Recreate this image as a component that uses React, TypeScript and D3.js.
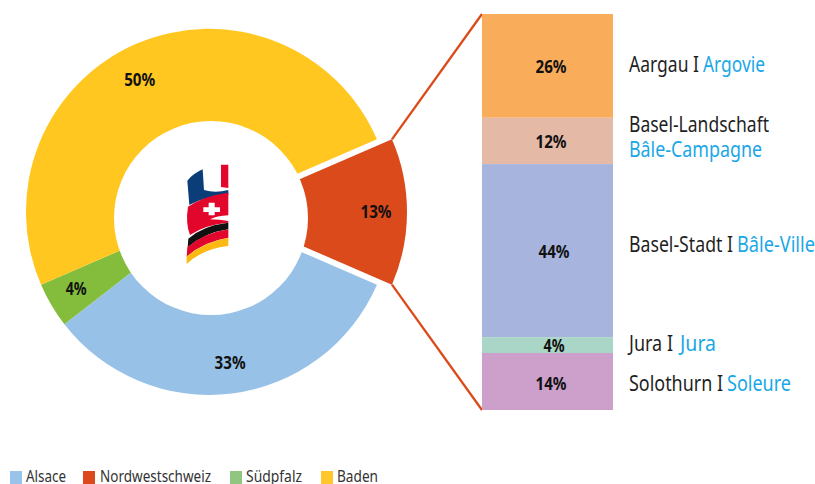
import React from 'react'
import * as d3 from 'd3'

const WIDTH = 815
const HEIGHT = 484
const FONT = '"Noto Sans", "Open Sans", sans-serif'

// donut, clockwise from the blue slice
const regions = ['Alsace', 'Südpfalz', 'Baden', 'Nordwestschweiz']
const regionShares = [33, 4, 50, 13]
const regionColors = ['#97C1E7', '#84BC3B', '#FFC71F', '#DB4A1B']

// legend has its own order and a paler green
const legendNames = ['Alsace', 'Nordwestschweiz', 'Südpfalz', 'Baden']
const legendColors = ['#99C4EA', '#DC491C', '#90C680', '#FFC72C']
const legendSwatchX = [10, 83, 230, 321]
const legendTextX = [26, 100, 246, 337]
const legendTextW = [40, 111, 56, 41]

// stacked bar, values are a bit finer than the printed percentages
const cantonShares = [26.2, 11.7, 43.7, 4.0, 14.4]
const cantonColors = ['#F9AC5A', '#E4B9A6', '#A7B5DE', '#A9D6C6', '#CDA0CC']

const CENTER = { x: 209, y: 212 }
const HOLE = { x: 211, y: 218, r: 97 }
const RADIUS = 183
const EXPLODE = 15
const BAR = { x: 482, w: 131, top: 14, bottom: 410 }
const START = (113.4 * Math.PI) / 180

const blueText = '#1AA7E6'
const darkText = '#1f1f1f'

// one row per text piece: text, colour, x, baseline, width
const cantonLabels: [string, string, number, number, number][] = [
  ['Aargau I', darkText, 629, 72, 70],
  ['Argovie', blueText, 703, 72, 62],
  ['Basel-Landschaft', darkText, 629, 132, 140],
  ['Bâle-Campagne', blueText, 629, 157, 133],
  ['Basel-Stadt I', darkText, 629, 252, 104],
  ['Bâle-Ville', blueText, 737, 252, 78],
  ['Jura I', darkText, 629, 351, 44],
  ['Jura', blueText, 680, 351, 36],
  ['Solothurn I', darkText, 629, 391, 94],
  ['Soleure', blueText, 727, 391, 64],
]
const barLabelX = [551, 551, 554, 554, 551]
const barLabelY = [73, 148, 258, 352, 390]

function Percent({ x, y, value }: { x: number; y: number; value: number }) {
  return (
    <text x={x} y={y} textAnchor="middle" fontFamily={FONT} fontSize={18} fontWeight={700}
      textLength={value < 10 ? 21 : 31} lengthAdjust="spacingAndGlyphs" fill="#111">
      {value}%
    </text>
  )
}

// the three-flag logo, drawn in the pixels of a 3x crop
function Logo() {
  return (
    <g transform="translate(160,140) scale(0.3333)">
      <path d="M82,122 Q100,100 128,88 L132,150 Q165,160 205,150 L205,165 Q130,170 88,195 Z" fill="#0B3D78" />
      <path d="M183,74 L205,74 L205,144 L183,141 Z" fill="#E2062C" />
      <path d="M84,200 Q130,168 205,158 L205,226 Q170,228 150,238 Q180,238 205,243 L205,248 Q135,254 90,285 Q76,250 84,200 Z" fill="#E2062C" />
      <path d="M130,202 H146 V188 H164 V202 H180 V216 H164 V226 H146 V216 H130 Z" fill="#fff" />
      <path d="M85,296 Q130,256 205,248 L205,268 Q135,278 83,322 Z" fill="#111" />
      <path d="M82,322 Q130,280 205,268 L205,293 Q130,305 80,350 Z" fill="#E2062C" />
      <path d="M80,350 Q130,306 205,293 L205,318 Q130,325 80,372 Z" fill="#FDB913" />
    </g>
  )
}

export default function App() {
  const pie = d3.pie<number>().sort(null).startAngle(START).endAngle(START + 2 * Math.PI)
  const slices = pie(regionShares)
  const arc = d3.arc<d3.PieArcDatum<number>>().innerRadius(0).outerRadius(RADIUS)
  const labelArc = d3.arc<d3.PieArcDatum<number>>().innerRadius(152).outerRadius(152)

  const y = d3.scaleLinear().domain([0, d3.sum(cantonShares)]).range([BAR.top, BAR.bottom])
  const stacks = d3.cumsum(cantonShares)

  const red = slices[3]
  const tip = (angle: number): [number, number] => [
    CENTER.x + EXPLODE + RADIUS * Math.sin(angle),
    CENTER.y - RADIUS * Math.cos(angle),
  ]
  const connectors = [
    [tip(red.startAngle), [BAR.x, y(0)]],
    [tip(red.endAngle), [BAR.x, y(d3.sum(cantonShares))]],
  ]
  const line = d3.line()

  return (
    <svg width={WIDTH} height={HEIGHT} viewBox={`0 0 ${WIDTH} ${HEIGHT}`}
      style={{ position: 'absolute', left: 0, top: 0, background: '#fff' }}>
      <g transform={`translate(${CENTER.x},${CENTER.y})`}>
        {slices.map((s, i) => (
          <path key={regions[i]} d={arc(s) as string} fill={regionColors[i]}
            transform={i === 3 ? `translate(${EXPLODE},0)` : undefined} />
        ))}
      </g>
      <circle cx={HOLE.x} cy={HOLE.y} r={HOLE.r} fill="#fff" />
      <Logo />

      {slices.map((s, i) => {
        const [lx, ly] = labelArc.centroid(s)
        const nudgeX = i === 3 ? EXPLODE : i === 2 ? -9 : i === 0 ? 2 : i === 1 ? -2 : 0
        const nudgeY = i === 2 ? 7 : 0
        return <Percent key={regions[i]} x={CENTER.x + lx + nudgeX} y={CENTER.y + ly + nudgeY + 6} value={regionShares[i]} />
      })}

      {connectors.map((c, i) => (
        <path key={i} d={line(c as [number, number][]) as string} stroke="#DB4A1B" strokeWidth={2.3} fill="none" />
      ))}

      {cantonShares.map((v, i) => (
        <rect key={i} x={BAR.x} width={BAR.w} y={y(stacks[i] - v)} height={y(stacks[i]) - y(stacks[i] - v)} fill={cantonColors[i]} />
      ))}
      {cantonShares.map((v, i) => (
        <Percent key={i} x={barLabelX[i]} y={barLabelY[i]} value={Math.round(v)} />
      ))}

      {cantonLabels.map(([text, color, x, base, w]) => (
        <text key={text} x={x} y={base} fontFamily={FONT} fontSize={21.5} fill={color}
          textLength={w} lengthAdjust="spacingAndGlyphs">
          {text}
        </text>
      ))}

      {legendNames.map((name, i) => (
        <g key={name}>
          <rect x={legendSwatchX[i]} y={471} width={12} height={13} fill={legendColors[i]} />
          <text x={legendTextX[i]} y={482} fontFamily={FONT} fontSize={17} fill="#333"
            textLength={legendTextW[i]} lengthAdjust="spacingAndGlyphs">
            {name}
          </text>
        </g>
      ))}
    </svg>
  )
}
